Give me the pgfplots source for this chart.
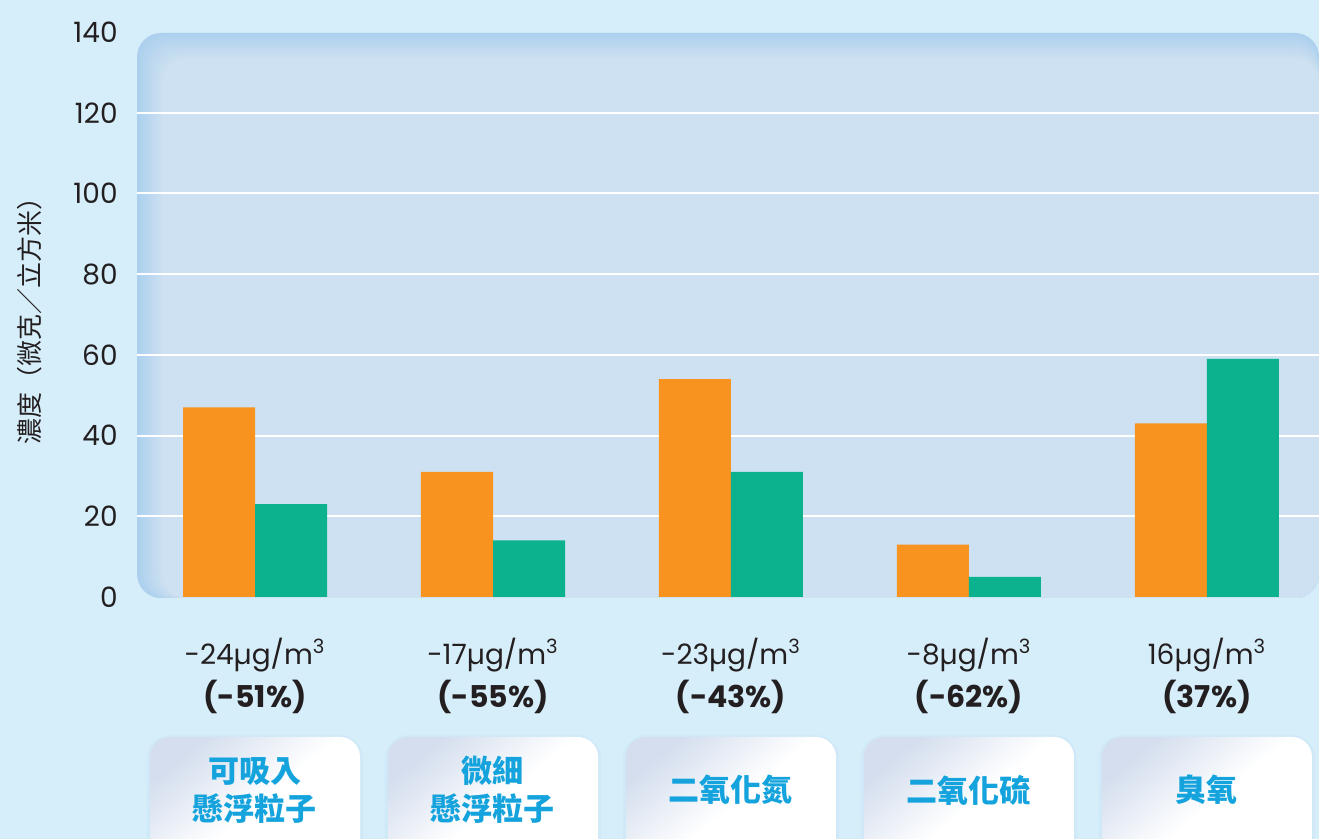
\documentclass[border=0pt]{standalone}
\usepackage{pgfplots}
\pgfplotsset{compat=1.18}
\usepackage{fontspec}
\setmainfont{Poppins}
\newfontfamily\cjk{Noto Sans CJK TC}

\definecolor{bgc}{RGB}{214,237,250}
\definecolor{paneledge}{RGB}{172,208,237}
\definecolor{panelin}{RGB}{206,225,242}
\definecolor{orangec}{RGB}{247,147,30}
\definecolor{greenc}{RGB}{11,178,141}
\definecolor{boxblue}{RGB}{20,163,220}
\definecolor{boxgray}{RGB}{212,222,238}
\definecolor{shadowc}{RGB}{196,226,245}
\definecolor{textdark}{RGB}{35,31,32}

% box under each category
\newcommand{\catbox}[2]{%
  \fill[shadowc, opacity=0.35, rounded corners=12pt]
    ([xshift=-54pt,yshift=-69pt]axis cs:#1,0) rectangle ([xshift=54pt,yshift=-140pt]axis cs:#1,0);
  \path[rounded corners=10pt, top color=boxgray, bottom color=white, middle color=white, shading angle=40]
    ([xshift=-52.5pt,yshift=-70pt]axis cs:#1,0) rectangle ([xshift=52.5pt,yshift=-140pt]axis cs:#1,0);
  \node[align=center, text=boxblue, font=\cjk\bfseries\fontsize{15.5}{19}\selectfont]
    at ([yshift=-96.5pt]axis cs:#1,0) {#2};
}

\begin{document}
\begin{tikzpicture}[x=0.5pt,y=0.5pt]
\useasboundingbox (0,0) rectangle (1319,839);
\clip (0,0) rectangle (1319,839);
\fill[bgc] (0,0) rectangle (1319,839);

% plot panel with soft darker top/left edge
\fill[paneledge, rounded corners=12pt] (137,241) rectangle (1319,806);
\foreach \i in {1,...,10}{
  \pgfmathtruncatemacro\m{100-10*\i}
  \fill[paneledge!\m!panelin, rounded corners=12pt] ({137+2.6*\i},241) rectangle (1319,{806-2.6*\i});
}

\begin{axis}[
  at={(68.5pt,121pt)}, anchor=south west,
  scale only axis, width=591pt, height=282.5pt,
  xmin=-0.4958, xmax=4.4706, ymin=0, ymax=140,
  ybar=0pt, bar width=36pt,
  axis line style={draw=none}, tick style={draw=none},
  clip=false,
  ytick={0,20,...,140},
  extra y ticks={20,40,...,120}, extra y tick labels={},
  extra y tick style={grid=major},
  grid style={white, line width=1pt},
  /pgf/number format/assume math mode=true,
  yticklabel style={font=\fontsize{14}{14}\selectfont, text=textdark, inner sep=0pt, xshift=-9.5pt},
  xtick={0,...,4},
  xticklabels={
    {-24µg/m\textsuperscript{3}\\\textbf{\fontsize{15}{15}\selectfont(-51\%)}},
    {-17µg/m\textsuperscript{3}\\\textbf{\fontsize{15}{15}\selectfont(-55\%)}},
    {-23µg/m\textsuperscript{3}\\\textbf{\fontsize{15}{15}\selectfont(-43\%)}},
    {-8µg/m\textsuperscript{3}\\\textbf{\fontsize{15}{15}\selectfont(-62\%)}},
    {16µg/m\textsuperscript{3}\\\textbf{\fontsize{15}{15}\selectfont(37\%)}}},
  xticklabel style={align=center, font=\fontsize{14}{21.5}\selectfont, text=textdark, anchor=north, inner sep=0pt, yshift=-16pt},
  ylabel={\cjk 濃度（微克／立方米）},
  ylabel style={at={(axis description cs:-0.0905,0.5)}, anchor=center, font=\fontsize{13}{13}\selectfont, text=textdark},
]
\addplot[fill=orangec, draw=none] coordinates {(0,47) (1,31) (2,54) (3,13) (4,43)};
\addplot[fill=greenc, draw=none] coordinates {(0,23) (1,14) (2,31) (3,5) (4,59)};

\catbox{0}{可吸入\\懸浮粒子}
\catbox{1}{微細\\懸浮粒子}
\catbox{2}{二氧化氮}
\catbox{3}{二氧化硫}
\catbox{4}{臭氧}
\end{axis}
\end{tikzpicture}
\end{document}
